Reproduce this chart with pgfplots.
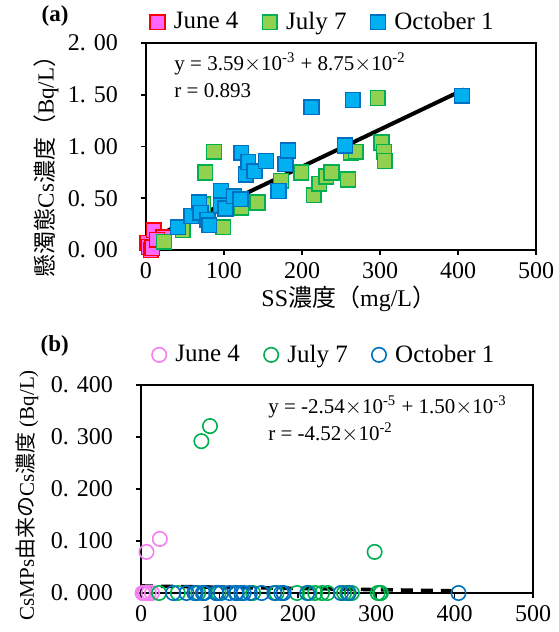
\documentclass[border=0pt]{standalone}
\usepackage{pgfplots}
\pgfplotsset{compat=1.18}
\usepackage{fontspec}
\setmainfont{Liberation Serif}
\newfontfamily\cjk{Noto Sans CJK JP}

\definecolor{junefill}{HTML}{FF66FF}
\definecolor{juneedge}{HTML}{FF0000}
\definecolor{julyfill}{HTML}{92D050}
\definecolor{julyedge}{HTML}{00B050}
\definecolor{octfill}{HTML}{00B0F0}
\definecolor{octedge}{HTML}{0070C0}
\definecolor{junecirc}{HTML}{F57EF0}

\pgfplotsset{
  panel/.style={
    scale only axis,
    xmin=0, xmax=500, xtick={0,100,...,500},
    tick align=outside, xtick pos=bottom, ytick pos=left,
    axis line style={line width=1pt},
    major tick length=2.5pt,
    every tick/.style={black, line width=0.8pt},
    tick label style={font=\fontsize{12}{14}\selectfont},
    yticklabel style={xshift=-8pt},
    /pgf/number format/assume math mode=true,
    clip=false,
    legend columns=3,
    legend style={draw=none, fill=none, font=\fontsize{12.5}{14}\selectfont,
      /tikz/every odd column/.append style={column sep=2.5pt},
      /tikz/every even column/.append style={column sep=10pt},
      inner sep=0pt},
    legend cell align=left,
  },
  sq/.style={only marks, mark=square*, mark size=3.7pt, line width=0.75pt},
  ci/.style={only marks, mark=o, mark size=3.6pt, line width=0.8pt},
}

\begin{document}
\begin{tikzpicture}
\path[use as bounding box] (0,0) rectangle (279pt,-316pt);

% (a)
\begin{axis}[panel,
  at={(73pt,-125pt)}, anchor=south west,
  width=195pt, height=103.5pt,
  ymin=0, ymax=2, ytick={0,0.5,1,1.5,2},
  yticklabels={0. 00,0. 50,1. 00,1. 50,2. 00},
  ylabel={{\cjk 懸濁態}Cs{\cjk 濃度（}Bq/L{\cjk ）}},
  ylabel style={at={(axis description cs:-0.256,0.43)}, anchor=center,
    font=\fontsize{11.5}{13}\selectfont},
  xlabel={SS{\cjk 濃度（}mg/L{\cjk ）}},
  xlabel style={at={(axis description cs:0.52,-0.235)}, anchor=center,
    font=\fontsize{12}{13}\selectfont},
  legend style={at={(0.456,1.03)}, anchor=south},
]
\addplot[sq, draw=juneedge, fill=junefill] coordinates {
  (2,0.07) (4,0.03) (6,0.0) (8,0.02) (10,0.19) (22,0.12) (14,0.10)
};
\addplot[sq, draw=julyedge, fill=julyfill] coordinates {
  (23,0.08) (47,0.19) (76,0.75) (87,0.95) (73,0.44) (99,0.22) (122,0.41)
  (143,0.46) (173,0.67) (199,0.75) (215,0.53) (222,0.64) (231,0.71)
  (238,0.75) (259,0.68) (263,0.94) (269,0.95) (297,1.47) (302,1.04)
  (305,0.95) (306,0.86)
};
\addplot[sq, draw=octedge, fill=octfill] coordinates {
  (41,0.22) (58,0.33) (68,0.46) (70,0.36) (79,0.29) (81,0.24) (96,0.57)
  (96,0.43) (102,0.40) (113,0.52) (121,0.49) (122,0.94) (128,0.73)
  (131,0.85) (139,0.76) (154,0.86) (170,0.57) (179,0.83) (182,0.96)
  (212,1.38) (255,1.01) (265,1.45) (405,1.49)
};
\legend{June 4, July 7, October 1}
\addplot[black, line width=2pt, forget plot] coordinates {(3,0.098) (408,1.552)};
\node[anchor=north west, align=left, font=\fontsize{10.5}{13.5}\selectfont, inner sep=0pt]
  at (axis description cs:0.072,0.955)
  {y = 3.59$\times$10\textsuperscript{-3} + 8.75$\times$10\textsuperscript{-2}\\ r = 0.893};
\node[font=\bfseries\fontsize{11.5}{13}\selectfont] at (axis description cs:-0.233,1.13) {(a)};
\end{axis}

% (b)
\begin{axis}[panel,
  at={(70.5pt,-296.5pt)}, anchor=south west,
  width=196pt, height=104pt,
  ymin=0, ymax=0.4, ytick={0,0.1,0.2,0.3,0.4},
  yticklabels={0. 000,0. 100,0. 200,0. 300,0. 400},
  ylabel={CsMPs{\cjk 由来の}Cs{\cjk 濃度} (Bq/L)},
  ylabel style={at={(axis description cs:-0.29,0.47)}, anchor=center,
    font=\fontsize{10.5}{12}\selectfont},
  legend style={at={(0.47,1.145)}, anchor=center},
]
\addplot[ci, draw=junecirc] coordinates {
  (2,0) (4,0) (6,0) (10,0) (14,0) (7,0.079) (24,0.104)
};
\addplot[ci, draw=julyedge] coordinates {
  (23,0) (47,0) (77,0.292) (88,0.321) (73,0) (99,0) (122,0)
  (143,0) (173,0) (199,0) (215,0) (222,0) (231,0)
  (238,0) (259,0) (263,0) (269,0) (298,0.079) (302,0)
  (305,0) (306,0)
};
\addplot[ci, draw=octedge] coordinates {
  (41,0) (58,0) (68,0) (70,0) (79,0) (81,0) (96,0)
  (96,0) (102,0) (113,0) (121,0) (122,0) (128,0)
  (131,0) (139,0) (154,0) (170,0) (179,0) (182,0)
  (212,0) (255,0) (265,0) (405,0)
};
\legend{June 4, July 7, October 1}
\addplot[black, line width=1.8pt, dash pattern=on 6pt off 4pt, forget plot]
  coordinates {(0,0.0135) (405,0.004)};
\node[anchor=north west, align=left, font=\fontsize{10.5}{13.5}\selectfont, inner sep=0pt]
  at (axis description cs:0.324,0.952)
  {y = -2.54$\times$10\textsuperscript{-5} + 1.50$\times$10\textsuperscript{-3}\\ r = -4.52$\times$10\textsuperscript{-2}};
\node[font=\bfseries\fontsize{11.5}{13}\selectfont] at (axis description cs:-0.22,1.19) {(b)};
\end{axis}
\end{tikzpicture}
\end{document}
